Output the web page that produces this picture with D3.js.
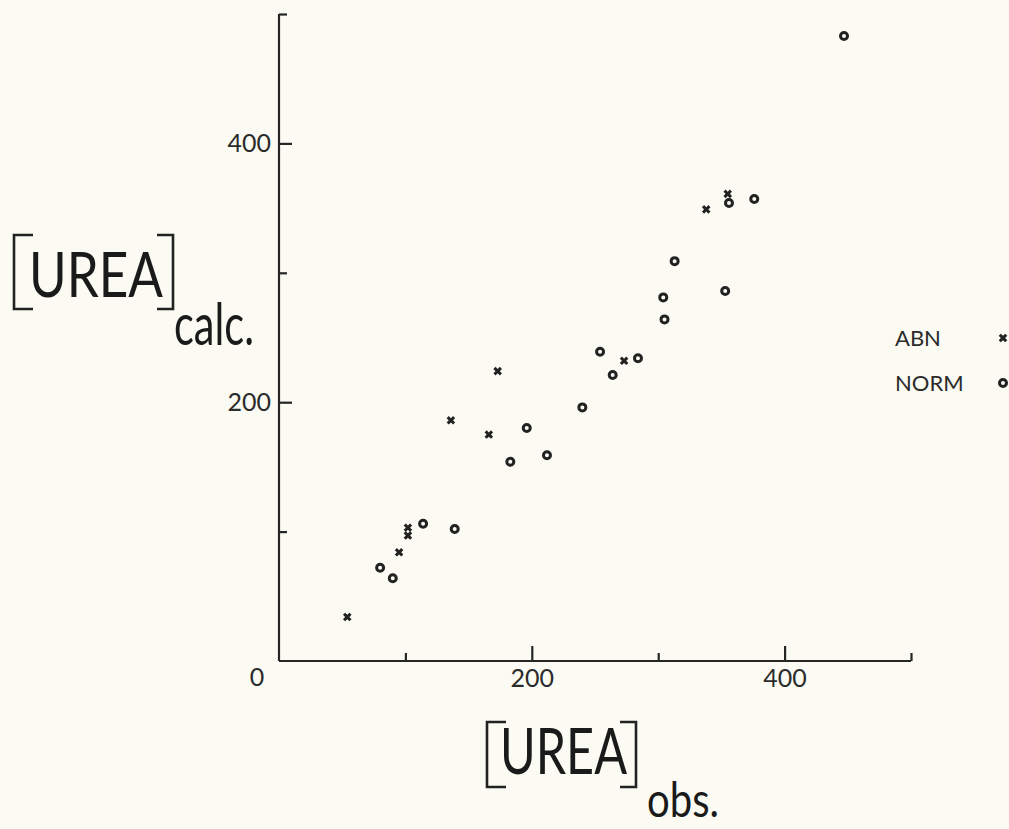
<!DOCTYPE html>
<html>
<head>
<meta charset="utf-8">
<script src="https://cdn.jsdelivr.net/npm/d3@7"></script>
<style>
  html, body { margin: 0; padding: 0; background: #fbfbf3; }
  svg { display: block; font-family: Lato, "Open Sans", sans-serif; }
  .axis path, .axis line { stroke: #262626; stroke-width: 2.2; }
  .axis text { fill: #2b2b2b; font-size: 25px; font-family: Lato, sans-serif; }
</style>
</head>
<body>
<svg id="chart" width="1009" height="829"></svg>
<script>
/* ── DATA ─────────────────────────────────────────────────────────────── */
const abnObs   = [54, 95, 102, 102, 136, 166, 173, 273, 338, 355];
const abnCalc  = [34, 84, 97, 103, 186, 175, 224, 232, 349, 361];
const normObs  = [80, 90, 114, 139, 183, 196, 212, 240, 254, 264, 284, 305, 304, 313, 353, 356, 376, 447];
const normCalc = [72, 64, 106, 102, 154, 180, 159, 196, 239, 221, 234, 264, 281, 309, 286, 354, 357, 483];
const majorTicks = [200, 400];
const minorTicks = [100, 300, 500];
const legendLabels = ['ABN', 'NORM'];

/* ── SCALES ───────────────────────────────────────────────────────────── */
const INK = '#222';
const svg = d3.select('#chart');
const x = d3.scaleLinear().domain([0, 500]).range([279, 911]);
const y = d3.scaleLinear().domain([0, 500]).range([661, 14]);

/* ── AXES ─────────────────────────────────────────────────────────────── */
svg.append('g').attr('class', 'axis')
  .attr('transform', `translate(0,${y(0)})`)
  .call(d3.axisBottom(x).tickValues(majorTicks).tickSize(-15).tickSizeOuter(0).tickPadding(8))
  .call(g => g.select('.domain').attr('d', `M${x(0)},0H${x(500)}`));

svg.append('g').attr('class', 'axis')
  .attr('transform', `translate(0,${y(0)})`)
  .call(d3.axisBottom(x).tickValues(minorTicks).tickSize(-8).tickFormat(''))
  .call(g => g.select('.domain').remove());

svg.append('g').attr('class', 'axis')
  .attr('transform', `translate(${x(0)},0)`)
  .call(d3.axisLeft(y).tickValues(majorTicks).tickSize(-13).tickSizeOuter(0).tickPadding(8))
  .call(g => g.select('.domain').attr('d', `M0,${y(0)}V${y(500)}`));

svg.append('g').attr('class', 'axis')
  .attr('transform', `translate(${x(0)},0)`)
  .call(d3.axisLeft(y).tickValues(minorTicks).tickSize(-8).tickFormat(''))
  .call(g => g.select('.domain').remove());

// origin label
svg.append('text')
  .attr('x', 257).attr('y', y(0) + 25)
  .attr('text-anchor', 'middle')
  .attr('fill', '#2b2b2b').attr('font-size', 25)
  .text('0');

/* ── MARKS ────────────────────────────────────────────────────────────── */
const cross = d3.symbol(d3.symbolCross).size(46);

svg.append('g').selectAll('path')
  .data(d3.range(abnObs.length))
  .join('path')
  .attr('d', cross)
  .attr('transform', i => `translate(${x(abnObs[i])},${y(abnCalc[i])}) rotate(45)`)
  .attr('fill', INK);

svg.append('g').selectAll('circle')
  .data(d3.range(normObs.length))
  .join('circle')
  .attr('cx', i => x(normObs[i]))
  .attr('cy', i => y(normCalc[i]))
  .attr('r', 3.5)
  .attr('fill', 'none')
  .attr('stroke', INK)
  .attr('stroke-width', 3);

/* ── LEGEND ───────────────────────────────────────────────────────────── */
const legend = svg.append('g');
legend.selectAll('text')
  .data(legendLabels)
  .join('text')
  .attr('x', 895)
  .attr('y', (d, i) => 346 + i * 45)
  .attr('fill', '#2b2b2b')
  .attr('font-size', 22)
  .text(d => d);

legend.append('path')
  .attr('d', cross)
  .attr('transform', 'translate(1003,338) rotate(45)')
  .attr('fill', INK);
legend.append('circle')
  .attr('cx', 1003).attr('cy', 383).attr('r', 3.5)
  .attr('fill', 'none').attr('stroke', INK).attr('stroke-width', 3);

/* ── AXIS TITLES ──────────────────────────────────────────────────────── */
function bracketTitle(left, right, top, bottom, textX, baseline, textW, size, sub) {
  const g = svg.append('g');
  g.append('path')
    .attr('d', `M${left + 19},${top}H${left}V${bottom}H${left + 19}`
             + `M${right - 16},${top}H${right}V${bottom}H${right - 16}`)
    .attr('fill', 'none').attr('stroke', INK).attr('stroke-width', 2.6);
  g.append('text')
    .attr('x', textX).attr('y', baseline)
    .attr('textLength', textW).attr('lengthAdjust', 'spacingAndGlyphs')
    .attr('font-size', size).attr('font-weight', 400).attr('fill', '#1a1a1a')
    .text('UREA');
  g.append('text')
    .attr('x', sub.x).attr('y', sub.y)
    .attr('textLength', sub.w).attr('lengthAdjust', 'spacingAndGlyphs')
    .attr('font-size', sub.size).attr('font-weight', 400).attr('fill', '#1a1a1a')
    .text(sub.text);
}

bracketTitle(14, 173, 235, 309, 29, 297, 134, 62, { x: 174, y: 345, w: 80, size: 58, text: 'calc.' });
bracketTitle(487, 636, 722, 787, 500, 774, 127, 64, { x: 647, y: 817, w: 72, size: 48, text: 'obs.' });
</script>
</body>
</html>
